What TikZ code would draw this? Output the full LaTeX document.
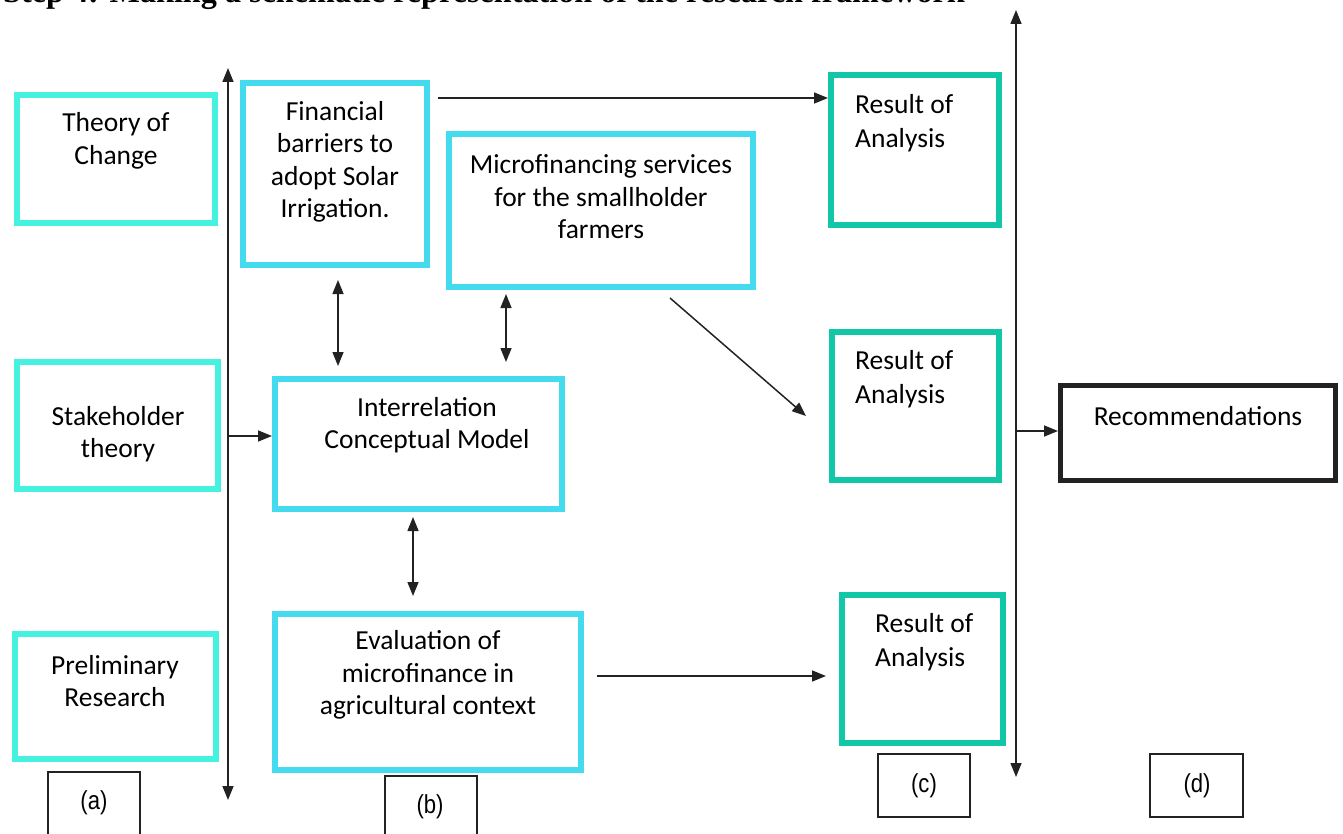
\documentclass[tikz,border=0pt]{standalone}
\usepackage{fontspec}
\setmainfont{Carlito}
\newfontfamily\titlefont{Liberation Serif}
\newfontfamily\tagfont{Liberation Sans}
\usetikzlibrary{arrows.meta,calc}
\definecolor{aqualine}{HTML}{45F2E0}
\definecolor{skyline}{HTML}{45DBEE}
\definecolor{resline}{HTML}{12C6A8}
\definecolor{ink}{HTML}{222222}
\begin{document}
\begin{tikzpicture}[x=1pt,y=-1pt,
  frame/.style={draw, line width=6pt, inner sep=0pt, fill=white},
  txt/.style={font=\fontsize{27.5}{32.5}\selectfont, align=center, inner sep=0pt, text=black},
  rtxt/.style={font=\fontsize{27.5}{34}\selectfont, align=left, inner sep=0pt, anchor=west, text=black},
  arr/.style={ink, line width=1.5pt, -{Triangle[length=14pt,width=11pt]}},
  darr/.style={ink, line width=1.5pt, {Triangle[length=14pt,width=11pt]}-{Triangle[length=14pt,width=11pt]}},
  tagbox/.style={draw=ink, line width=1.5pt, inner sep=0pt},
  tagtxt/.style={font=\tagfont\fontsize{26}{30}\selectfont, inner sep=0pt, xscale=0.85}
]
\useasboundingbox (0,0) rectangle (1343,834);
\clip (0,0) rectangle (1343,834);

% heading
\node[anchor=base west, inner sep=0pt, font=\titlefont\bfseries\fontsize{32.2}{36}\selectfont] (title) at (3,3)
  {Step 4: Making a schematic representation of the research framework};

% column (a): theories
\node[frame, draw=aqualine, minimum width=198pt, minimum height=128pt] (toc) at (116,159) {};
\node[frame, draw=aqualine, minimum width=201pt, minimum height=127pt] (sh) at (117.5,425.5) {};
\node[frame, draw=aqualine, minimum width=201pt, minimum height=125pt] (pr) at (115.5,696.5) {};
\node[txt] (toc-t) at (116,141) {Theory of\\Change};
\node[txt] (sh-t) at (118,434) {Stakeholder\\theory};
\node[txt] (pr-t) at (115,681) {Preliminary\\Research};

% column (b): model
\node[frame, draw=skyline, minimum width=184pt, minimum height=182pt] (fin) at (335,174) {};
\node[frame, draw=skyline, minimum width=304pt, minimum height=153pt] (mic) at (601,210.5) {};
\node[frame, draw=skyline, minimum width=287pt, minimum height=130pt] (inter) at (418.5,444) {};
\node[frame, draw=skyline, minimum width=306pt, minimum height=156pt] (eval) at (428,692) {};
\node[txt] (fin-t) at (335,162) {Financial\\barriers to\\adopt Solar\\Irrigation.};
\node[txt] (mic-t) at (601,197) {Microfinancing services\\for the smallholder\\farmers};
\node[txt] (inter-t) at (427,425) {Interrelation\\Conceptual Model};
\node[txt] (eval-t) at (428,675) {Evaluation of\\microfinance in\\agricultural context};

% column (c): results
\node[frame, draw=resline, minimum width=168pt, minimum height=150pt] (r1) at (915,150) {};
\node[frame, draw=resline, minimum width=167pt, minimum height=148pt] (r2) at (915.5,406) {};
\node[frame, draw=resline, minimum width=161pt, minimum height=148pt] (r3) at (922.5,669) {};
\node[rtxt] (r1-t) at (855,123) {Result of\\Analysis};
\node[rtxt] (r2-t) at (855,379) {Result of\\Analysis};
\node[rtxt] (r3-t) at (875,642) {Result of\\Analysis};

% column (d): outcome
\node[frame, draw=ink, line width=5pt, minimum width=275pt, minimum height=95pt] (rec) at (1198,433) {};
\node[txt] (rec-t) at (1198,416) {Recommendations};

% column tags
\node[tagbox, minimum width=92pt, minimum height=70pt] (ta) at (94,807) {};
\node[tagbox, minimum width=92pt, minimum height=70pt] (tb) at (431,811) {};
\node[tagbox, minimum width=92pt, minimum height=63pt] (tc) at (924,785.5) {};
\node[tagbox, minimum width=93pt, minimum height=63pt] (td) at (1196.5,785.5) {};
\node[tagtxt] (ta-t) at (94,803) {(a)};
\node[tagtxt] (tb-t) at (430,807) {(b)};
\node[tagtxt] (tc-t) at (924,786) {(c)};
\node[tagtxt] (td-t) at (1197,786) {(d)};

% spines
\coordinate (spineLT) at (228,68);
\coordinate (spineLB) at (228,800);
\coordinate (spineRT) at (1016,10);
\coordinate (spineRB) at (1016,777);
\draw[darr] (spineLB) -- (spineLT);
\draw[darr] (spineRB) -- (spineRT);

% connectors
\draw[arr] ($(inter.west)+(-44,-8)$) -- ($(inter.west)+(0,-8)$);
\draw[arr] ($(fin.east)+(8,-76)$) -- ($(r1.west)+(0,-52)$);
\draw[darr] ($(fin.south)+(3,12)$) -- ($(inter.north -| fin.south)+(3,-10)$);
\draw[darr] ($(mic.south)+(-95,4)$) -- ($(inter.north -| mic.south)+(-95,-14)$);
\draw[darr] ($(inter.south)+(-5.5,5)$) -- ($(eval.north -| inter.south)+(-5.5,-15)$);
\draw[arr] ($(mic.south)+(69,8)$) -- ($(r2.west)+(-23,10)$);
\draw[arr] ($(eval.east)+(13,-16)$) -- ($(r3.west)+(-13,7)$);
\draw[arr] ($(rec.west)+(-42,-2)$) -- ($(rec.west)+(0,-2)$);
\end{tikzpicture}
\end{document}
